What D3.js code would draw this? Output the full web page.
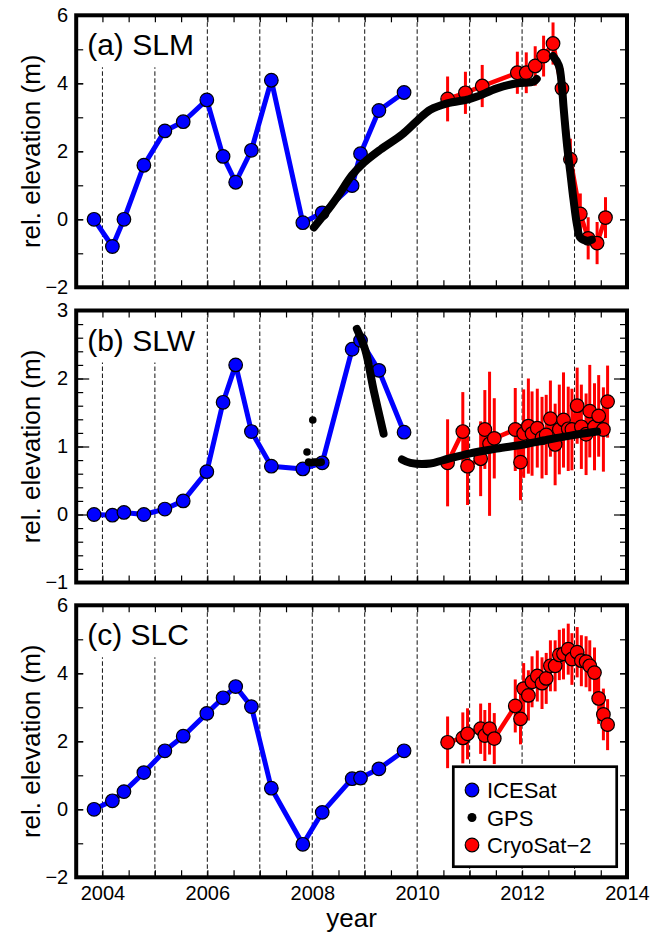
<!DOCTYPE html>
<html>
<head>
<meta charset="utf-8">
<script src="https://cdn.jsdelivr.net/npm/d3@7"></script>
<style>
  body { margin: 0; background: #fff; }
  text { font-family: "Liberation Sans", Arial, Helvetica, sans-serif; }
</style>
</head>
<body>
<svg id="chart" width="652" height="934"></svg>
<script>
// ---- data ----
// ICESat campaigns (same epochs for all three lakes)
const icesatTimes = [2003.84, 2004.19, 2004.41, 2004.79, 2005.19, 2005.54, 2005.99, 2006.30, 2006.54,
                     2006.84, 2007.22, 2007.82, 2008.19, 2008.76, 2008.92, 2009.27, 2009.75];
const icesatSLM = [0, -0.80, 0, 1.59, 2.60, 2.87, 3.51, 1.85, 1.09, 2.03, 4.09, -0.10, 0.19, 0.99, 1.93, 3.20, 3.73];
const icesatSLW = [0, -0.01, 0.03, 0, 0.08, 0.20, 0.63, 1.65, 2.20, 1.22, 0.71, 0.67, 0.76, 2.43, 2.56, 2.12, 1.21];
const icesatSLC = [0, 0.25, 0.52, 1.08, 1.72, 2.15, 2.82, 3.28, 3.61, 3.02, 0.62, -1.03, -0.09, 0.90, 0.92, 1.19, 1.72];

// CryoSat-2 over SLM
const cryoTimesSLM = [2010.58, 2010.92, 2011.24, 2011.91, 2012.08, 2012.25, 2012.41, 2012.59, 2012.76,
                      2012.92, 2013.11, 2013.26, 2013.43, 2013.59];
const cryoSLM = [3.54, 3.72, 3.92, 4.31, 4.31, 4.51, 4.80, 5.17, 3.85, 1.77, 0.16, -0.56, -0.70, 0.05];
const cryoErrSLM = [0.66, 0.62, 0.62, 0.62, 0.6, 0.58, 0.6, 0.62, 0.6, 0.6, 0.6, 0.62, 0.62, 0.6];

// CryoSat-2 over SLW and SLC
const cryoTimes = [2010.58, 2010.87, 2010.96, 2011.21, 2011.29, 2011.38, 2011.47, 2011.87, 2011.97, 2012.03,
                   2012.12, 2012.19, 2012.29, 2012.38, 2012.46, 2012.54, 2012.63, 2012.71, 2012.79, 2012.88,
                   2012.95, 2013.05, 2013.13, 2013.22, 2013.29, 2013.38, 2013.46, 2013.55, 2013.63];
const cryoSLW = [0.76, 1.22, 0.71, 0.82, 1.25, 1.04, 1.12, 1.25, 0.77, 1.19, 1.30, 1.19, 1.27, 1.13, 1.17,
                 1.41, 1.03, 1.25, 1.39, 1.26, 1.25, 1.60, 1.29, 1.18, 1.52, 1.29, 1.45, 1.25, 1.66];
const cryoErrSLW = [0.64, 0.58, 0.57, 0.55, 0.58, 1.06, 0.59, 0.61, 0.56, 0.65, 0.7, 0.62, 0.58, 0.6, 0.59,
                    0.56, 0.6, 0.66, 0.7, 0.62, 0.6, 0.56, 0.62, 0.6, 0.68, 0.64, 0.6, 0.62, 0.53];
const cryoSLC = [1.97, 2.10, 2.22, 2.37, 2.17, 2.37, 2.08, 3.04, 2.66, 3.55, 3.35, 3.75, 3.92, 3.71, 3.85,
                 4.22, 4.22, 4.54, 4.57, 4.71, 4.42, 4.62, 4.37, 4.34, 4.22, 4.02, 3.26, 2.79, 2.49];
const cryoErrSLC = [0.76, 0.75, 0.75, 0.74, 0.75, 0.76, 0.75, 0.78, 0.75, 0.75, 0.74, 0.75, 0.75, 0.76, 0.75,
                    0.75, 0.75, 0.74, 0.75, 0.75, 0.76, 0.74, 0.75, 0.75, 0.75, 0.74, 0.75, 0.76, 0.75];

// GPS tracks, [year, elevation], one array per continuous segment
const gpsSLM = [
  [[2008.03, -0.24], [2008.35, 0.38], [2008.48, 0.66], [2008.76, 1.30], [2008.98, 1.66], [2009.30, 2.05],
   [2009.71, 2.49], [2010.0, 2.90], [2010.25, 3.22], [2010.57, 3.41], [2010.98, 3.53], [2011.14, 3.61],
   [2011.52, 3.85], [2011.90, 4.0], [2012.22, 4.05], [2012.28, 4.13]],
  [[2012.59, 4.80], [2012.70, 4.53], [2012.76, 3.90], [2012.79, 3.31], [2012.86, 2.14], [2012.92, 1.37],
   [2012.98, 0.58], [2013.05, -0.19], [2013.11, -0.54], [2013.24, -0.63], [2013.33, -0.60]]
];
const gpsSLW = [
  [[2008.85, 2.73], [2009.01, 2.42], [2009.17, 1.83], [2009.36, 1.19]],
  [[2009.71, 0.81], [2009.87, 0.76], [2010.25, 0.75], [2010.50, 0.80], [2011.01, 0.90], [2011.52, 0.97],
   [2012.03, 1.03], [2012.48, 1.10], [2012.92, 1.16], [2013.43, 1.22]]
];
const gpsDotsSLW = [[2007.90, 0.92], [2008.01, 1.39], [2007.93, 0.77], [2007.98, 0.76], [2008.03, 0.77],
                    [2008.08, 0.77], [2008.13, 0.76], [2008.17, 0.77]];

const yearLabels = [2004, 2006, 2008, 2010, 2012, 2014];
const gridYears = [2004, 2005, 2006, 2007, 2008, 2009, 2010, 2011, 2012, 2013];
const legendLabels = ["ICESat", "GPS", "CryoSat\u22122"];

// ---- layout ----
const svg = d3.select("#chart");
const left = 76.2, right = 627, panelH = 272;
const tops = [15.3, 310.5, 605.3];
const blue = "#0000ff", red = "#ff0000";

const x = d3.scaleLinear().domain([2003.5, 2014]).range([left, right]);

const panels = [
  { name: "(a) SLM", dom: [-2, 6], labStep: 2, minStep: 1, longMajor: false,
    ice: icesatSLM, ct: cryoTimesSLM, cv: cryoSLM, ce: cryoErrSLM, gps: gpsSLM, dots: [] },
  { name: "(b) SLW", dom: [-1, 3], labStep: 1, minStep: 0.2, longMajor: true,
    ice: icesatSLW, ct: cryoTimes, cv: cryoSLW, ce: cryoErrSLW, gps: gpsSLW, dots: gpsDotsSLW },
  { name: "(c) SLC", dom: [-2, 6], labStep: 2, minStep: 1, longMajor: false,
    ice: icesatSLC, ct: cryoTimes, cv: cryoSLC, ce: cryoErrSLC, gps: [], dots: [] }
];

const fmt = d3.format("d");

panels.forEach((p, i) => {
  const top = tops[i], bottom = top + panelH;
  const y = d3.scaleLinear().domain(p.dom).range([bottom, top]);
  const g = svg.append("g");

  // dashed year lines
  g.selectAll("line.grid").data(gridYears).enter().append("line")
    .attr("x1", d => x(d)).attr("x2", d => x(d))
    .attr("y1", top).attr("y2", bottom)
    .attr("stroke", "#111").attr("stroke-width", 1).attr("stroke-dasharray", "4.5,2.5");

  // panel title with white backing box
  const title = g.append("text")
    .attr("x", left + 11).attr("y", top + 40)
    .attr("font-size", 30).attr("fill", "#000")
    .text(p.name);
  const bb = title.node().getBBox();
  g.insert("rect", "text")
    .attr("x", left).attr("y", top)
    .attr("width", bb.x + bb.width + 5 - left)
    .attr("height", 52)
    .attr("fill", "#fff");

  // axes (ticks inward)
  const labVals = d3.range(p.dom[0], p.dom[1] + 1e-6, p.labStep);
  const minVals = d3.range(p.dom[0], p.dom[1] + 1e-6, p.minStep);
  const majLen = p.longMajor ? 13 : 7;

  g.append("g").attr("transform", `translate(${left},0)`)
    .call(d3.axisLeft(y).tickValues(minVals).tickSize(-7).tickFormat(""));
  g.append("g").attr("transform", `translate(${left},0)`)
    .call(d3.axisLeft(y).tickValues(labVals).tickSize(-majLen).tickPadding(8).tickFormat(fmt));
  g.append("g").attr("transform", `translate(${right},0)`)
    .call(d3.axisRight(y).tickValues(minVals).tickSize(-7).tickFormat(""));
  g.append("g").attr("transform", `translate(${right},0)`)
    .call(d3.axisRight(y).tickValues(labVals).tickSize(-majLen).tickFormat(""));

  const halfYears = d3.range(2004, 2014, 0.5);
  g.append("g").attr("transform", `translate(0,${top})`)
    .call(d3.axisTop(x).tickValues(halfYears).tickSize(-7).tickFormat(""));
  g.append("g").attr("transform", `translate(0,${bottom})`)
    .call(d3.axisBottom(x).tickValues(halfYears).tickSize(-7).tickFormat(""));
  if (i === 2) {
    g.append("g").attr("transform", `translate(0,${bottom})`)
      .call(d3.axisBottom(x).tickValues(yearLabels).tickSize(0).tickPadding(8.6).tickFormat(fmt));
  }
  g.selectAll(".domain").remove();
  g.selectAll(".tick line").attr("stroke", "#000").attr("stroke-width", 1.2);
  g.selectAll(".tick text").attr("font-size", 20).attr("fill", "#000")
    .attr("font-family", "'Liberation Sans', Arial, Helvetica, sans-serif");

  // y label
  g.append("text")
    .attr("transform", `translate(40,${(top + bottom) / 2}) rotate(-90)`)
    .attr("text-anchor", "middle")
    .attr("font-size", 26)
    .text("rel. elevation (m)");

  // CryoSat-2: error bars, line, markers
  const cryo = p.ct.map((t, k) => ({ t: t, v: p.cv[k], e: p.ce[k] }));
  g.selectAll("line.err").data(cryo).enter().append("line")
    .attr("x1", d => x(d.t)).attr("x2", d => x(d.t))
    .attr("y1", d => y(d.v - d.e)).attr("y2", d => y(d.v + d.e))
    .attr("stroke", red).attr("stroke-width", 3);
  const line = d3.line().x(d => x(d.t)).y(d => y(d.v));
  g.append("path").datum(cryo).attr("d", line)
    .attr("fill", "none").attr("stroke", red).attr("stroke-width", 4.5).attr("stroke-linejoin", "round");
  g.selectAll("circle.cryo").data(cryo).enter().append("circle")
    .attr("cx", d => x(d.t)).attr("cy", d => y(d.v)).attr("r", 6.8)
    .attr("fill", red).attr("stroke", "#000").attr("stroke-width", 1.2);

  // ICESat
  const ice = icesatTimes.map((t, k) => ({ t: t, v: p.ice[k] }));
  g.append("path").datum(ice).attr("d", line)
    .attr("fill", "none").attr("stroke", blue).attr("stroke-width", 5).attr("stroke-linejoin", "round");
  g.selectAll("circle.ice").data(ice).enter().append("circle")
    .attr("cx", d => x(d.t)).attr("cy", d => y(d.v)).attr("r", 6.8)
    .attr("fill", blue).attr("stroke", "#000").attr("stroke-width", 1.2);

  // GPS
  const gpsLine = d3.line().x(d => x(d[0])).y(d => y(d[1])).curve(d3.curveCatmullRom.alpha(0.5));
  p.gps.forEach(seg => {
    g.append("path").datum(seg).attr("d", gpsLine)
      .attr("fill", "none").attr("stroke", "#000").attr("stroke-width", 8)
      .attr("stroke-linecap", "round").attr("stroke-linejoin", "round");
  });
  g.selectAll("circle.gps").data(p.dots).enter().append("circle")
    .attr("cx", d => x(d[0])).attr("cy", d => y(d[1])).attr("r", 3.8).attr("fill", "#000");

  // frame
  g.append("rect")
    .attr("x", left).attr("y", top).attr("width", right - left).attr("height", panelH)
    .attr("fill", "none").attr("stroke", "#000").attr("stroke-width", 4);

  // legend in panel c
  if (i === 2) {
    const lg = g.append("g");
    lg.append("rect").attr("x", 453.3).attr("y", 766.7).attr("width", 163.4).attr("height", 100)
      .attr("fill", "#fff").attr("stroke", "#000").attr("stroke-width", 2.7);
    const items = lg.selectAll("g.item").data(legendLabels).enter().append("g")
      .attr("transform", (d, k) => `translate(472,${790 + k * 27.5})`);
    items.append("circle")
      .attr("r", (d, k) => k === 1 ? 4.5 : 6.8)
      .attr("fill", (d, k) => [blue, "#000", red][k])
      .attr("stroke", "#000").attr("stroke-width", (d, k) => k === 1 ? 0 : 1.2);
    items.append("text").attr("x", 15).attr("y", 8)
      .attr("font-size", 22).text(d => d);
  }
});

// x label
svg.append("text")
  .attr("x", (left + right) / 2).attr("y", 927)
  .attr("text-anchor", "middle").attr("font-size", 26)
  .text("year");
</script>
</body>
</html>
